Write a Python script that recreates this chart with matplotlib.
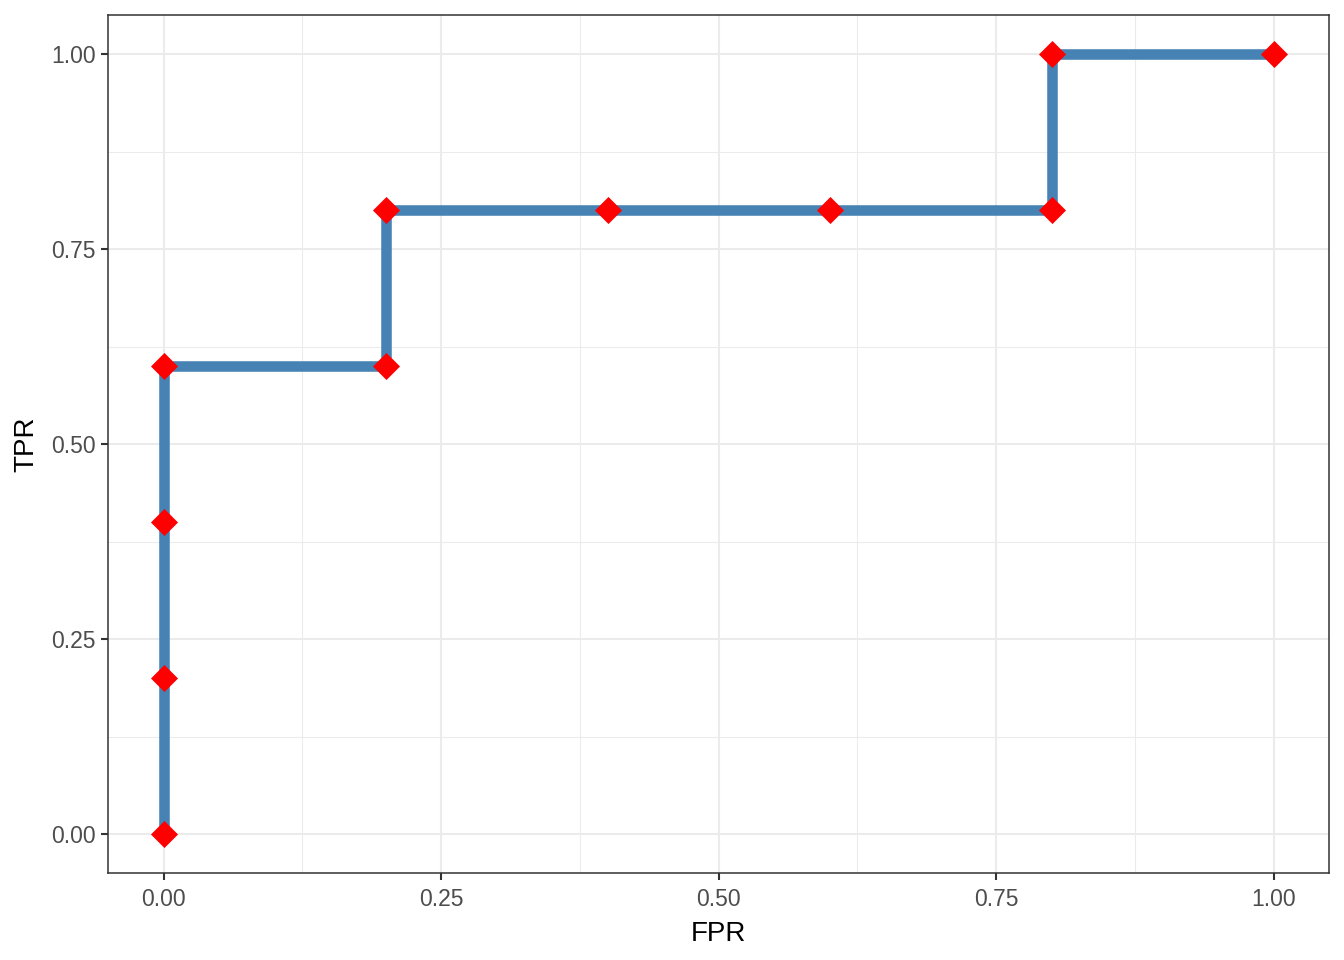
import matplotlib
matplotlib.use("Agg")
import matplotlib.pyplot as plt
import numpy as np

fpr = [0.0, 0.0, 0.0, 0.0, 0.2, 0.2, 0.4, 0.6, 0.8, 0.8, 1.0]
tpr = [0.0, 0.2, 0.4, 0.6, 0.6, 0.8, 0.8, 0.8, 0.8, 1.0, 1.0]
ticks = [0.0, 0.25, 0.5, 0.75, 1.0]
tick_labels = ["0.00", "0.25", "0.50", "0.75", "1.00"]

plt.rcParams['font.family'] = ['Liberation Sans', 'DejaVu Sans']
fig = plt.figure(figsize=(13.44, 9.6), dpi=100)
ax = fig.add_axes([108/1344, 87/960, 1221/1344, 858/960])

ax.plot(fpr, tpr, color='#4682B4', lw=7.6, solid_capstyle='butt', solid_joinstyle='miter', zorder=3)
ax.scatter(fpr, tpr, marker='D', s=190, color='#FF0000', zorder=4, linewidths=0)

ax.set_xlim(-0.05, 1.05)
ax.set_ylim(-0.05, 1.05)
ax.set_xticks(ticks)
ax.set_xticklabels(tick_labels)
ax.set_yticks(ticks)
ax.set_yticklabels(tick_labels)
ax.set_xticks([0.125, 0.375, 0.625, 0.875], minor=True)
ax.set_yticks([0.125, 0.375, 0.625, 0.875], minor=True)
ax.grid(which='major', color='#EBEBEB', lw=1.5, zorder=0)
ax.grid(which='minor', color='#EBEBEB', lw=0.75, zorder=0)
ax.set_axisbelow(True)
ax.tick_params(which='minor', length=0)
ax.tick_params(which='major', length=5, width=1.5, color='#333333', labelsize=16.5, labelcolor='#4D4D4D')
ax.tick_params(axis='x', which='major', pad=6)
ax.tick_params(axis='y', which='major', pad=4)
for s in ax.spines.values():
    s.set_color('#333333')
    s.set_linewidth(1.1)
ax.set_xlabel('FPR', fontsize=20, labelpad=7)
ax.set_ylabel('TPR', fontsize=20, labelpad=8)
fig.savefig('out.png', dpi=100)
